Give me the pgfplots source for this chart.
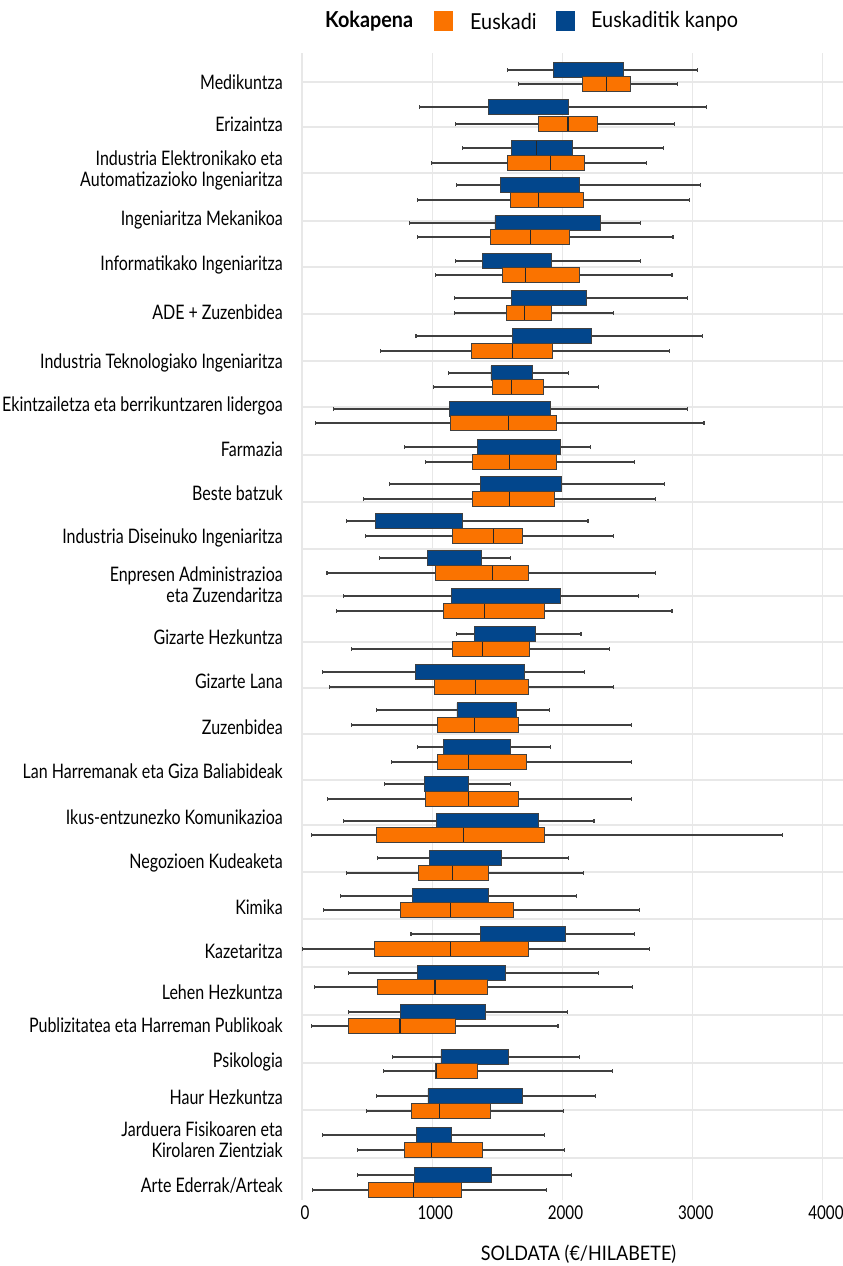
\documentclass[border=0pt]{standalone}
\usepackage{pgfplots}
\pgfplotsset{compat=1.18}
\usepgfplotslibrary{statistics}
\usepackage{fontspec}
\setmainfont{Lato}[FakeStretch=0.8]
\newfontfamily\legfont{Lato}[FakeStretch=0.9]
\definecolor{eusk}{HTML}{FA7300}
\definecolor{kanpo}{HTML}{02468C}
\definecolor{gridc}{HTML}{E8E8E8}
\definecolor{whisk}{HTML}{404040}
% blue box, median hidden (not visible in the reference)
\newcommand{\kb}[6]{\addplot[fill=kanpo, draw=black!75, line width=0.7pt,
  boxplot/every median/.style={draw=none},
  boxplot prepared={draw position=#1, lower whisker=#2, lower quartile=#3,
  median=#4, upper quartile=#5, upper whisker=#6}] coordinates {};}
% blue box with visible median
\newcommand{\kbm}[6]{\addplot[fill=kanpo, draw=black!75, line width=0.7pt,
  boxplot prepared={draw position=#1, lower whisker=#2, lower quartile=#3,
  median=#4, upper quartile=#5, upper whisker=#6}] coordinates {};}
\newcommand{\eu}[6]{\addplot[fill=eusk, draw=black!75, line width=0.7pt,
  boxplot prepared={draw position=#1, lower whisker=#2, lower quartile=#3,
  median=#4, upper quartile=#5, upper whisker=#6}] coordinates {};}
\begin{document}
\begin{tikzpicture}
\begin{axis}[
  at={(302pt,-53pt)}, anchor=north west,
  scale only axis, width=541pt, height=1147pt,
  xmin=0, xmax=4154, ymin=53, ymax=1200, y dir=reverse,
  axis line style={draw=none},
  major tick length=0pt,
  scaled x ticks=false,
  /pgf/number format/assume math mode=true,
  /pgf/number format/set thousands separator={},
  xtick={0,1000,2000,3000,4000},
  xmajorgrids, ymajorgrids=false,
  grid style={draw=gridc, line width=1.1pt},
  xticklabel style={font=\fontsize{19}{21}\selectfont, inner sep=0pt, anchor=north, yshift=-6pt, xshift=3pt},
  ytick={82,124,170,220,265,312,363,406,449,493,538,585,637,681,727,771,817,863,907,951,992,1025,1062,1097,1140,1186},
  yticklabels={Medikuntza,Erizaintza,{Industria Elektronikako eta\\Automatizazioko Ingeniaritza},Ingeniaritza Mekanikoa,Informatikako Ingeniaritza,ADE + Zuzenbidea,Industria Teknologiako Ingeniaritza,Ekintzailetza eta berrikuntzaren lidergoa,Farmazia,Beste batzuk,Industria Diseinuko Ingeniaritza,{Enpresen Administrazioa\\eta Zuzendaritza},Gizarte Hezkuntza,Gizarte Lana,Zuzenbidea,Lan Harremanak eta Giza Baliabideak,Ikus-entzunezko Komunikazioa,Negozioen Kudeaketa,Kimika,Kazetaritza,Lehen Hezkuntza,Publizitatea eta Harreman Publikoak,Psikologia,Haur Hezkuntza,{Jarduera Fisikoaren eta\\Kirolaren Zientziak},Arte Ederrak/Arteak},
  yticklabel style={font=\fontsize{20}{21}\selectfont, align=right, inner sep=0pt, anchor=east, xshift=-19pt},
  extra y ticks={82,127,173,221,267,314,361,407,455,502,549,596,642,688,734,780,825,872,919,967,1015,1063,1110,1158},
  extra y tick labels={},
  extra y tick style={grid=major},
  xlabel={SOLDATA (€/HILABETE)},
  xlabel style={font=\legfont\fontsize{20}{22}\selectfont, at={(axis description cs:0.5,0)}, anchor=center, yshift=-54pt, xshift=6pt},
  boxplot/draw direction=x,
  boxplot/box extend=14.5,
  boxplot/whisker extend=4,
  boxplot/every whisker/.style={draw=whisk, line width=1.1pt},
  boxplot/every median/.style={draw=black!85, line width=1.2pt},
]
% Euskaditik kanpo (blue)
\kb{70}{1579}{1928}{1928}{2470}{3036}
\kb{107}{902}{1430}{1430}{2042}{3109}
\kbm{148}{1232}{1609}{1798}{2074}{2778}
\kb{185}{1183}{1522}{1522}{2128}{3057}
\kb{223}{823}{1481}{1481}{2291}{2597}
\kb{261}{1181}{1384}{1384}{1915}{2597}
\kb{298}{1170}{1606}{1606}{2183}{2963}
\kb{336}{875}{1614}{1614}{2218}{3074}
\kb{373}{1124}{1451}{1451}{1766}{2047}
\kb{409}{244}{1129}{1129}{1904}{2963}
\kb{447}{788}{1346}{1346}{1980}{2212}
\kb{484}{672}{1370}{1370}{1993}{2781}
\kb{521}{341}{561}{561}{1235}{2196}
\kb{558}{593}{964}{964}{1378}{1600}
\kb{596}{320}{1148}{1148}{1985}{2586}
\kb{634}{1183}{1327}{1327}{1793}{2142}
\kb{672}{154}{872}{872}{1706}{2166}
\kb{710}{574}{1189}{1189}{1649}{1901}
\kb{747}{886}{1083}{1083}{1603}{1906}
\kb{784}{631}{940}{940}{1281}{1600}
\kb{821}{320}{1029}{1029}{1814}{2242}
\kb{858}{580}{978}{978}{1533}{2047}
\kb{896}{295}{845}{845}{1433}{2110}
\kb{934}{837}{1370}{1370}{2020}{2554}
\kb{973}{360}{888}{888}{1565}{2275}
\kb{1012}{357}{756}{756}{1405}{2042}
\kb{1057}{696}{1067}{1067}{1587}{2134}
\kb{1096}{574}{967}{967}{1690}{2256}
\kb{1135}{154}{877}{877}{1143}{1863}
\kb{1175}{425}{864}{864}{1451}{2066}
% Euskadi (orange)
\eu{84}{1665}{2150}{2337}{2518}{2881}
\eu{124}{1181}{1817}{2042}{2267}{2860}
\eu{163}{994}{1579}{1906}{2166}{2643}
\eu{200}{886}{1600}{1814}{2164}{2976}
\eu{237}{888}{1446}{1752}{2055}{2849}
\eu{275}{1024}{1541}{1717}{2131}{2841}
\eu{313}{1170}{1571}{1711}{1915}{2394}
\eu{351}{601}{1297}{1614}{1925}{2822}
\eu{387}{1013}{1462}{1606}{1855}{2275}
\eu{423}{106}{1140}{1587}{1952}{3087}
\eu{462}{948}{1305}{1592}{1955}{2556}
\eu{499}{471}{1305}{1592}{1939}{2716}
\eu{536}{485}{1151}{1473}{1693}{2394}
\eu{573}{192}{1021}{1462}{1736}{2713}
\eu{611}{268}{1083}{1403}{1858}{2841}
\eu{649}{382}{1154}{1389}{1747}{2359}
\eu{687}{211}{1013}{1335}{1736}{2391}
\eu{725}{382}{1037}{1324}{1660}{2527}
\eu{762}{685}{1037}{1278}{1722}{2527}
\eu{799}{195}{948}{1281}{1663}{2529}
\eu{835}{70}{571}{1238}{1858}{3691}
\eu{873}{344}{894}{1156}{1433}{2158}
\eu{910}{165}{756}{1143}{1622}{2589}
\eu{949}{3}{555}{1143}{1741}{2665}
\eu{987}{95}{577}{1021}{1422}{2540}
\eu{1026}{70}{357}{753}{1178}{1966}
\eu{1071}{623}{1026}{1030}{1346}{2386}
\eu{1111}{493}{842}{1053}{1449}{2007}
\eu{1150}{425}{783}{994}{1381}{2015}
\eu{1190}{79}{509}{858}{1221}{1879}
\end{axis}
% legend
\node[anchor=west, inner sep=0pt, font=\legfont\bfseries\fontsize{22}{24}\selectfont] at (325pt,-21pt) {Kokapena};
\fill[eusk] (434pt,-11pt) rectangle (453pt,-31pt);
\node[anchor=west, inner sep=0pt, font=\legfont\fontsize{22}{24}\selectfont] at (470pt,-21pt) {Euskadi};
\fill[kanpo] (556pt,-11pt) rectangle (575pt,-31pt);
\node[anchor=west, inner sep=0pt, font=\legfont\fontsize{22}{24}\selectfont] at (591pt,-21pt) {Euskaditik kanpo};
\pgfresetboundingbox
\path[use as bounding box] (0pt,0pt) rectangle (843pt,-1266pt);
\end{tikzpicture}
\end{document}
